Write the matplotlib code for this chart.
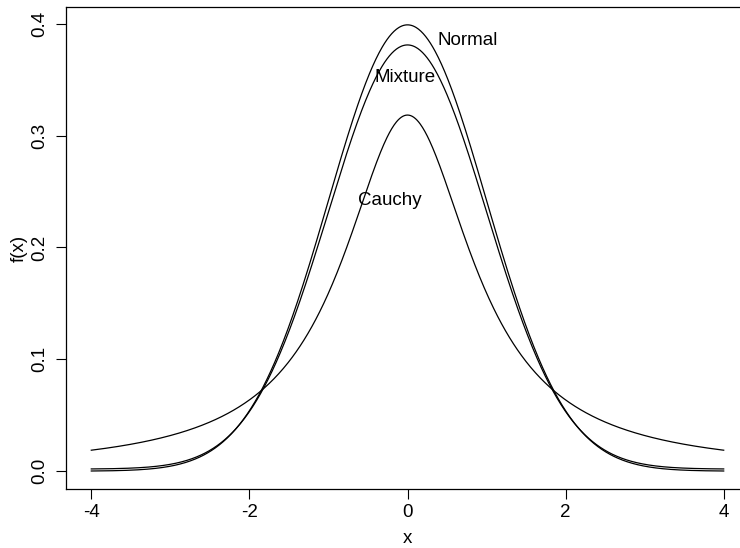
import numpy as np
import matplotlib
matplotlib.use('Agg')
import matplotlib.pyplot as plt

# curves: standard normal, standard Cauchy, contaminated normal
x_min, x_max = -4, 4
mix_weight = 0.95     # weight of N(0,1)
mix_sd = 10.0         # sd of contaminating normal
curve_names = ['Normal', 'Mixture', 'Cauchy']
label_x = [0.76, -0.03, -0.23]
label_y = [0.385, 0.352, 0.242]
x_ticks = [-4, -2, 0, 2, 4]
y_ticks = [0.0, 0.1, 0.2, 0.3, 0.4]

plt.rcParams['font.family'] = ['Liberation Sans', 'DejaVu Sans']


def dnorm(x, sd=1.0):
    return np.exp(-0.5 * (x / sd) ** 2) / (sd * np.sqrt(2 * np.pi))


xs = np.linspace(x_min, x_max, 801)
dens = {
    'Normal': dnorm(xs),
    'Mixture': mix_weight * dnorm(xs) + (1 - mix_weight) * dnorm(xs, mix_sd),
    'Cauchy': 1 / (np.pi * (1 + xs ** 2)),
}

fig = plt.figure(figsize=(7.40, 5.48), dpi=100)
ax = fig.add_axes([66 / 740, 59 / 548, 683 / 740, 482 / 548])

for name in curve_names:
    ax.plot(xs, dens[name], color='black', lw=0.9)

for name, lx, ly in zip(curve_names, label_x, label_y):
    ax.text(lx, ly, name, ha='center', va='center', fontsize=13.5)

# R style axis ranges (4% padding)
xr = x_max - x_min
ax.set_xlim(x_min - 0.04 * xr, x_max + 0.04 * xr)
ymax = dens['Normal'].max()
ax.set_ylim(-0.04 * ymax, ymax * 1.04)

ax.set_xticks(x_ticks)
ax.set_xticklabels([str(t) for t in x_ticks])
ax.set_yticks(y_ticks)
ax.set_yticklabels(['%.1f' % t for t in y_ticks], rotation=90, va='center')
ax.tick_params(direction='out', length=7, width=0.8, labelsize=13.5, pad=4)
ax.tick_params(axis='y', pad=6)
for s in ax.spines.values():
    s.set_linewidth(0.9)

ax.set_xlabel('x', fontsize=13.5, labelpad=6)
ax.set_ylabel('f(x)', fontsize=13.5, labelpad=2)

fig.savefig('out.png', dpi=100)
